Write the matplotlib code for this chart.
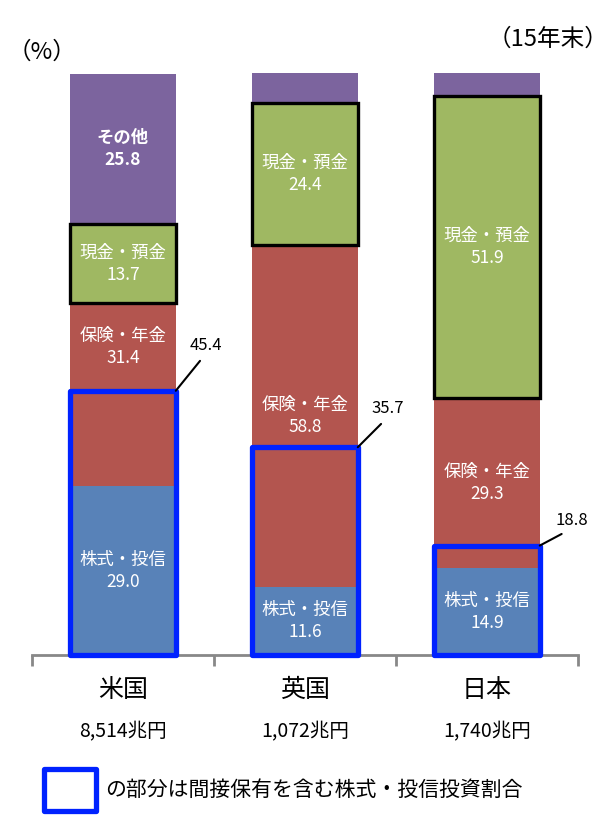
import matplotlib
matplotlib.use("Agg")
import matplotlib.pyplot as plt
from matplotlib.patches import Rectangle
from matplotlib.transforms import blended_transform_factory

plt.rcParams['font.family'] = ['Noto Sans CJK JP', 'DejaVu Sans']

# --- Daten ---
countries = ["米国", "英国", "日本"]
totals = ["8,514兆円", "1,072兆円", "1,740兆円"]
segments = ["株式・投信", "保険・年金", "現金・預金", "その他"]
stocks = [29.0, 11.6, 14.9]
insurance = [31.4, 58.8, 29.3]
cash = [13.7, 24.4, 51.9]
other = [25.8, 5.2, 3.9]
indirect = [45.4, 35.7, 18.8]      # inkl. indirekter Besitz

colors = ["#5882B8", "#B3554F", "#9FB862", "#7C649E"]
BLUE = "#0022FF"
W = 0.58

fig = plt.figure(figsize=(6.1, 8.24), dpi=100)
ax = fig.add_axes([32 / 610, 1 - 655 / 824, 546 / 610, 582 / 824])
ax.set_xlim(-0.5, 2.5)
ax.set_ylim(0, 100)

data = [stocks, insurance, cash, other]
x = list(range(len(countries)))
bottom = [0.0] * len(countries)
for k, seg in enumerate(data):
    ax.bar(x, seg, W, bottom=bottom, color=colors[k], edgecolor="none", zorder=2)
    for i in x:
        v = seg[i]
        if v < 10:
            continue
        y = bottom[i] + v / 2
        # beim US-Balken steht die Beschriftung oberhalb der blauen Box
        if k == 1 and i == 0:
            y = (indirect[i] + bottom[i] + v) / 2
        bold = (k == 3)
        ax.text(i, y + 1.9, segments[k], ha="center", va="center",
                color="white", fontsize=12.5, fontweight="bold" if bold else "normal", zorder=5)
        ax.text(i, y - 1.9, f"{v:.1f}", ha="center", va="center",
                color="white", fontsize=12.5, fontweight="bold" if bold else "normal", zorder=5)
    bottom = [b + s for b, s in zip(bottom, seg)]

# schwarze Rahmen um Bargeld/Einlagen
for i in x:
    b = stocks[i] + insurance[i]
    ax.add_patch(Rectangle((i - W / 2, b), W, cash[i], fill=False, edgecolor="black",
                           lw=2.4, zorder=6, clip_on=False))

# blaue Rahmen + Werte
offsets = [(30, 37), (30, 30), (32, 17)]
for i in x:
    ax.add_patch(Rectangle((i - W / 2, 0), W, indirect[i], fill=False, edgecolor=BLUE,
                           lw=3.8, zorder=7, clip_on=False, joinstyle="round"))
    ax.annotate(f"{indirect[i]:.1f}", xy=(i + W / 2, indirect[i]),
                xytext=offsets[i], textcoords="offset pixels",
                ha="center", va="bottom", fontsize=12, color="black",
                arrowprops=dict(arrowstyle="-", color="black", lw=1.5,
                                shrinkA=4, shrinkB=0, relpos=(0.5, 0)), zorder=8)

# Achse
for s in ["top", "right", "left"]:
    ax.spines[s].set_visible(False)
ax.spines["bottom"].set_color("#888888")
ax.spines["bottom"].set_linewidth(2)
ax.set_yticks([])
ax.set_xticks([-0.5, 0.5, 1.5, 2.5])
ax.set_xticklabels([])
ax.tick_params(axis="x", direction="out", length=8, width=2, color="#888888")

trans = blended_transform_factory(ax.transData, fig.transFigure)
for i in x:
    ax.text(i, 1 - 690 / 824, countries[i], transform=trans, ha="center", va="center",
            fontsize=18)
    ax.text(i, 1 - 732 / 824, totals[i], transform=trans, ha="center", va="center",
            fontsize=14)

fig.text(42 / 610, 1 - 52 / 824, "（%）", ha="center", va="center", fontsize=17)
fig.text(608 / 610, 1 - 39 / 824, "（15年末）", ha="right", va="center", fontsize=17)

# Legende
fig.patches.append(Rectangle((44 / 610, 1 - 811 / 824), 52 / 610, 42 / 824, fill=False,
                             edgecolor=BLUE, lw=3.8, joinstyle="round",
                             transform=fig.transFigure, figure=fig))
fig.text(105 / 610, 1 - 790 / 824, "の部分は間接保有を含む株式・投信投資割合",
         ha="left", va="center", fontsize=15)

fig.savefig("out.png", dpi=100)
